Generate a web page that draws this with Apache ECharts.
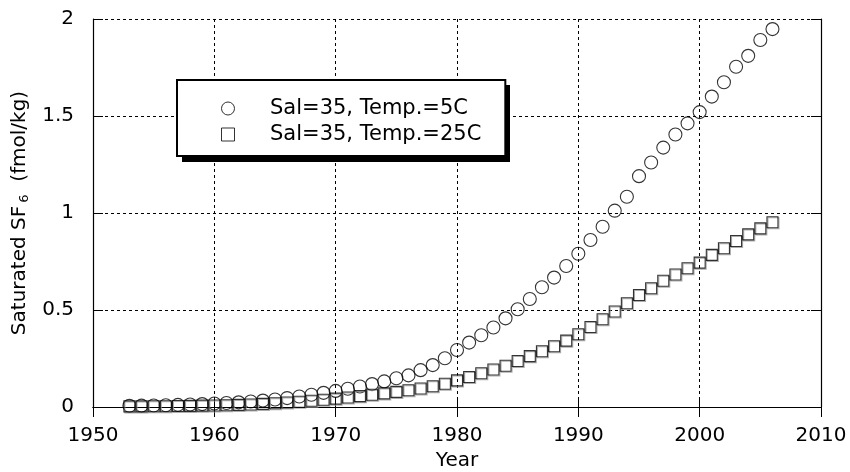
<!DOCTYPE html>
<html>
<head>
<meta charset="utf-8">
<script src="https://cdn.jsdelivr.net/npm/echarts@6/dist/echarts.min.js"></script>
<style>html,body{margin:0;padding:0;background:#fff}#c{width:850px;height:472px}</style>
</head>
<body>
<div id="c"></div>
<script>
const years = [1953,1954,1955,1956,1957,1958,1959,1960,1961,1962,1963,1964,1965,1966,1967,1968,1969,1970,1971,1972,1973,1974,1975,1976,1977,1978,1979,1980,1981,1982,1983,1984,1985,1986,1987,1988,1989,1990,1991,1992,1993,1994,1995,1996,1997,1998,1999,2000,2001,2002,2003,2004,2005,2006];
const temp5C = [0.006,0.007,0.008,0.009,0.011,0.013,0.015,0.018,0.021,0.024,0.028,0.033,0.039,0.046,0.054,0.063,0.073,0.083,0.094,0.106,0.118,0.132,0.148,0.163,0.19,0.216,0.251,0.294,0.332,0.37,0.41,0.457,0.504,0.557,0.617,0.667,0.727,0.79,0.861,0.929,1.012,1.084,1.19,1.26,1.337,1.405,1.462,1.52,1.6,1.674,1.754,1.81,1.892,1.948];
const temp25C = [0.003,0.003,0.004,0.004,0.005,0.006,0.007,0.008,0.009,0.011,0.013,0.016,0.019,0.023,0.027,0.032,0.037,0.043,0.049,0.056,0.063,0.07,0.078,0.086,0.095,0.107,0.12,0.137,0.155,0.174,0.193,0.213,0.237,0.262,0.287,0.313,0.342,0.375,0.412,0.452,0.492,0.535,0.577,0.612,0.651,0.683,0.715,0.744,0.784,0.818,0.856,0.89,0.921,0.952];
const seriesNames = ['Sal=35, Temp.=5C', 'Sal=35, Temp.=25C'];
const xLabel = 'Year';
const yLabel = 'Saturated SF{sub|6}  (fmol/kg)';

const FONT = 'DejaVu Sans';
const SQUARE = 'path://M0,0L10,0L10,10L0,10Z';
const chart = echarts.init(document.getElementById('c'), null, {renderer: 'canvas'});
const gridLine = {show: true, lineStyle: {color: '#000', type: [3, 3], width: 1}};
const boxLine = {show: true, lineStyle: {color: '#000', width: 1.2}};
const tick = {show: true, inside: true, length: 10, lineStyle: {color: '#000'}};
chart.setOption({
  animation: false,
  backgroundColor: '#fff',
  grid: {left: 93, right: 29, top: 19, bottom: 65, containLabel: false, outerBoundsMode: 'none'},
  graphic: [{
    type: 'rect', z: 1, silent: true,
    shape: {x: 182, y: 85, width: 328, height: 77},
    style: {fill: '#000'}
  }],
  xAxis: [{
    type: 'value', min: 1950, max: 2010, interval: 10,
    axisLine: boxLine, axisTick: tick, splitLine: gridLine,
    axisLabel: {color: '#000', fontFamily: FONT, fontSize: 20, margin: 19, formatter: v => String(v)},
    name: xLabel, nameLocation: 'middle', nameGap: 41,
    nameTextStyle: {color: '#000', fontFamily: FONT, fontSize: 20}
  }, {
    type: 'value', position: 'top', min: 1950, max: 2010, interval: 10,
    axisLine: boxLine, axisTick: tick, splitLine: {show: false}, axisLabel: {show: false}
  }],
  yAxis: [{
    type: 'value', min: 0, max: 2, interval: 0.5,
    axisLine: boxLine, axisTick: tick, splitLine: gridLine,
    axisLabel: {color: '#000', fontFamily: FONT, fontSize: 20, margin: 19},
    name: yLabel, nameLocation: 'middle', nameGap: 62,
    nameTextStyle: {color: '#000', fontFamily: FONT, fontSize: 20,
      rich: {sub: {fontFamily: FONT, fontSize: 13, verticalAlign: 'bottom', padding: [10, 0, 0, 3], color: '#000'}}}
  }, {
    type: 'value', position: 'right', min: 0, max: 2, interval: 0.5,
    axisLine: boxLine, axisTick: tick, splitLine: {show: false}, axisLabel: {show: false}
  }],
  legend: {
    orient: 'vertical', left: 177, top: 80, z: 5,
    backgroundColor: '#fff', borderColor: '#000', borderWidth: 2, borderRadius: 0,
    padding: [18, 24, 11, 44], itemGap: 5, itemWidth: 74, itemHeight: 13,
    symbolKeepAspect: true,
    textStyle: {color: '#000', fontFamily: FONT, fontSize: 21},
    data: [
      {name: seriesNames[0], icon: 'circle', itemStyle: {color: 'rgba(0,0,0,0)', borderColor: '#000', borderWidth: 1}},
      {name: seriesNames[1], icon: SQUARE, itemStyle: {color: 'rgba(0,0,0,0)', borderColor: '#000', borderWidth: 1}}
    ]
  },
  series: [{
    name: seriesNames[0], type: 'scatter', symbol: 'circle', symbolSize: 13,
    itemStyle: {color: 'rgba(0,0,0,0)', borderColor: '#000', borderWidth: 1.1},
    data: years.map((y, i) => [y, temp5C[i]])
  }, {
    name: seriesNames[1], type: 'scatter', symbol: 'rect', symbolSize: 11,
    itemStyle: {color: 'rgba(0,0,0,0)', borderColor: '#000', borderWidth: 1.1,
      shadowColor: '#999', shadowBlur: 0, shadowOffsetX: 1, shadowOffsetY: 1},
    data: years.map((y, i) => [y, temp25C[i]])
  }]
});
</script>
</body>
</html>
